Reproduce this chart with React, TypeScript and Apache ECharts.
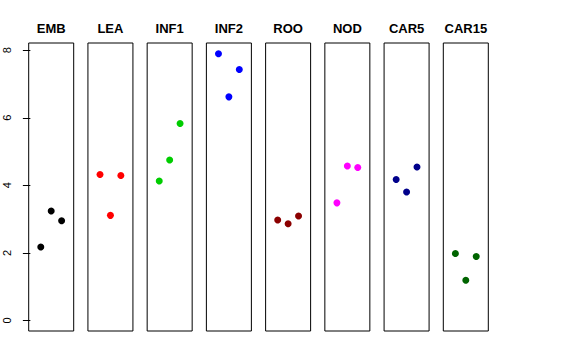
import React, { useEffect, useRef } from "react";
import * as echarts from "echarts";

const panels = ["EMB", "LEA", "INF1", "INF2", "ROO", "NOD", "CAR5", "CAR15"];
const colors = ["#000000", "#ff0000", "#00cd00", "#0000ff", "#8b0000", "#ff00ff", "#00008b", "#006400"];
const positions = [1, 2, 3];
const values = [
  [2.17, 3.24, 2.95],
  [4.32, 3.11, 4.29],
  [4.13, 4.75, 5.83],
  [7.90, 6.62, 7.43],
  [2.97, 2.86, 3.09],
  [3.48, 4.57, 4.53],
  [4.17, 3.80, 4.54],
  [1.98, 1.19, 1.89],
];
const yTicks = [0, 2, 4, 6, 8];

export default function App() {
  const ref = useRef<HTMLDivElement>(null);
  useEffect(() => {
    document.body.style.margin = "0";
    const chart = echarts.init(ref.current!, null, { renderer: "svg" });
    const left0 = 28.7;
    const step = 59.23;
    const w = 45;
    const font = "Liberation Sans, Arial, sans-serif";
    const grids = panels.map((_, i) => ({
      left: left0 + step * i,
      top: 43,
      width: w,
      height: 288,
      show: true,
      borderColor: "#000",
      borderWidth: 1,
      backgroundColor: "transparent",
    }));
    const xAxes = panels.map((_, i) => ({
      type: "value" as const,
      gridIndex: i,
      min: -0.16,
      max: 4.16,
      show: false,
    }));
    const yAxes = panels.map((_, i) => ({
      type: "value" as const,
      gridIndex: i,
      min: -0.316,
      max: 8.216,
      show: i === 0,
      axisLine: { show: false },
      splitLine: { show: false },
      axisTick: {
        show: i === 0,
        length: 7.5,
        customValues: yTicks,
        lineStyle: { color: "#000", width: 1 },
      },
      axisLabel: {
        show: i === 0,
        customValues: yTicks,
        rotate: 90,
        margin: 16,
        fontSize: 11,
        color: "#000",
        fontFamily: font,
      },
    }));
    const titles = panels.map((p, i) => ({
      text: p,
      left: left0 + step * i + w / 2,
      top: 22,
      textAlign: "center" as const,
      padding: 0,
      textStyle: { fontSize: 13, fontWeight: "bold" as const, color: "#000", fontFamily: font },
    }));
    const series = panels.map((p, i) => ({
      type: "scatter" as const,
      name: p,
      xAxisIndex: i,
      yAxisIndex: i,
      symbol: "circle",
      symbolSize: 7,
      itemStyle: { color: colors[i], opacity: 1 },
      data: positions.map((x, j) => [x, values[i][j]]),
    }));
    chart.setOption({
      animation: false,
      backgroundColor: "#fff",
      title: titles,
      grid: grids,
      xAxis: xAxes,
      yAxis: yAxes,
      series,
    });
    return () => chart.dispose();
  }, []);
  return <div ref={ref} style={{ width: 576, height: 360 }} />;
}
